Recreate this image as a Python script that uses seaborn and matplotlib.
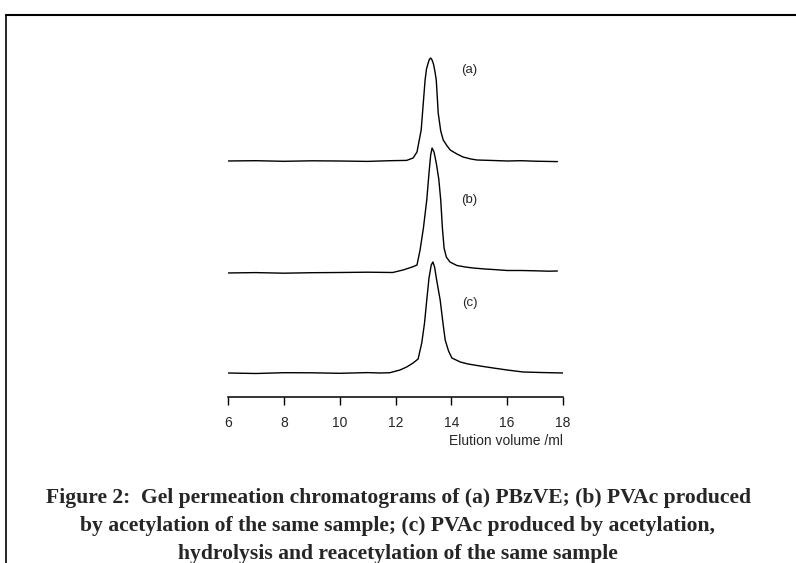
import numpy as np
import pandas as pd
import matplotlib
matplotlib.use("Agg")
import matplotlib.pyplot as plt
import seaborn as sns

# elution volume (ml) and detector response
vol_a = [5.9, 7.0, 8.0, 9.0, 10.0, 11.0, 11.8, 12.4, 12.63, 12.77, 12.92, 13.06, 13.11, 13.16,
         13.21, 13.26, 13.31, 13.36, 13.41, 13.46, 13.53, 13.62, 13.71, 13.85, 13.96, 14.2,
         14.42, 14.7, 14.92, 15.5, 16.0, 16.5, 17.0, 17.8]
sig_a = [0, 0.3, -0.3, 0.2, 0, -0.4, 0.3, 0.6, 3, 9, 31, 81, 92, 97,
         101.5, 103, 101, 97, 90, 81, 48, 30, 21, 15, 11, 7,
         4, 2, 1, 0.5, 0, 0.3, -0.2, -0.6]

vol_b = [5.9, 7.0, 8.0, 9.0, 10.0, 11.0, 11.9, 12.27, 12.6, 12.77, 12.88, 13.0, 13.12, 13.2,
         13.26, 13.31, 13.38, 13.46, 13.55, 13.62, 13.68, 13.74, 13.82, 13.95, 14.2, 14.5,
         14.78, 15.2, 15.5, 16.0, 16.5, 17.0, 17.5, 17.8]
sig_b = [0, 0.4, -0.2, 0.3, 0.5, 0.8, 0.5, 3, 6, 8, 23, 45, 73, 100,
         118, 125, 121, 110, 94, 73, 45, 25, 16, 11, 7.5, 6,
         5, 4, 3.5, 2.5, 2.5, 2.2, 1.8, 2]

vol_c = [6.0, 7.0, 8.0, 9.0, 10.0, 11.0, 11.45, 11.8, 12.16, 12.4, 12.63, 12.81, 12.94, 13.04,
         13.12, 13.2, 13.28, 13.34, 13.40, 13.48, 13.60, 13.70, 13.78, 13.9, 14.02, 14.32,
         14.6, 15.03, 15.5, 16.0, 16.57, 17.2, 18.0]
sig_c = [0, -0.5, 0.3, 0.2, -0.3, 0.4, 0, 0.3, 3, 6, 10, 14, 30, 50,
         73, 95, 108, 111, 106, 92, 73, 50, 33, 22, 15, 11,
         9, 7, 5, 3, 1, 0.5, 0]

samples = ["(a)", "(b)", "(c)"]
xticks = [6, 8, 10, 12, 14, 16, 18]

caption = ["Figure 2:  Gel permeation chromatograms of (a) PBzVE; (b) PVAc produced",
           "by acetylation of the same sample; (c) PVAc produced by acetylation,",
           "hydrolysis and reacetylation of the same sample"]

# vertical stacking of the traces (layout only)
offsets = {"(a)": 236, "(b)": 124, "(c)": 24}

frames = []
for name, v, s in zip(samples, [vol_a, vol_b, vol_c], [sig_a, sig_b, sig_c]):
    frames.append(pd.DataFrame({"volume": v, "signal": np.array(s) + offsets[name], "sample": name}))
df = pd.concat(frames, ignore_index=True)

sns.set_style("white")
plt.rcParams["font.family"] = ["Liberation Sans", "DejaVu Sans"]

fig = plt.figure(figsize=(7.96, 5.63), dpi=100)
ax = fig.add_axes([228 / 796, 166 / 563, 335 / 796, 367 / 563])

sns.lineplot(data=df, x="volume", y="signal", hue="sample", units="sample", estimator=None,
             palette=["black"] * 3, linewidth=1.0, legend=False, sort=False, ax=ax)

ax.set_xlim(6, 18)
ax.set_ylim(0, 367)
ax.set_xticks(xticks)
ax.set_xticklabels([str(t) for t in xticks], fontsize=10)
ax.set_yticks([])
ax.set_xlabel("")
ax.set_ylabel("")
for side in ["top", "right", "left"]:
    ax.spines[side].set_visible(False)
ax.spines["bottom"].set_linewidth(1.1)
ax.spines["bottom"].set_color("black")
ax.tick_params(axis="x", direction="out", length=6, width=1.0, color="black", pad=8, bottom=True)

ax.text(1.0, -0.12, "Elution volume /ml", transform=ax.transAxes, ha="right", va="center", fontsize=10)

label_pos = {"(a)": (14.35, 327), "(b)": (14.35, 197), "(c)": (14.37, 94)}
for name in samples:
    ax.text(label_pos[name][0], label_pos[name][1], name, fontsize=9.5, ha="left", va="center")

# page frame
fig.add_artist(plt.Line2D([6 / 796, 1.0], [1 - 15 / 563, 1 - 15 / 563], color="black", lw=1.5))
fig.add_artist(plt.Line2D([6 / 796, 6 / 796], [0, 1 - 15 / 563], color="black", lw=1.2))

for i, line in enumerate(caption):
    fig.text(0.5, 1 - (498 + 28 * i) / 563, line, ha="center", va="center", fontsize=15.6,
             fontweight="bold", family=["Liberation Serif", "DejaVu Serif"])

fig.savefig("out.png", dpi=100)
